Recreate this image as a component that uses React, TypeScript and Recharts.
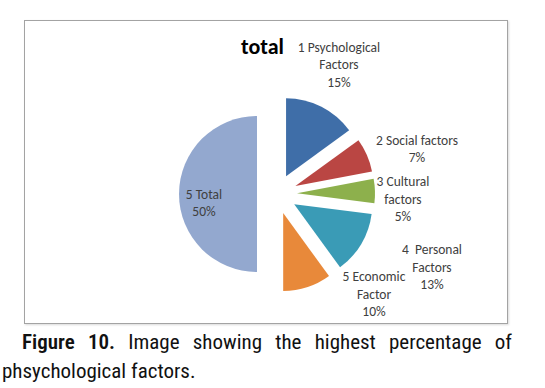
import React from 'react';
import { PieChart, Pie, Cell, Sector } from 'recharts';

// chart data
const categories = ['1 Psychological Factors', '2 Social factors', '3 Cultural factors', '4 Personal Factors', '5 Economic Factor', '5 Total'];
const values = [15, 7, 5, 13, 10, 50];
const labelLines = [
    ['1 Psychological', 'Factors'],
    ['2 Social factors'],
    ['3 Cultural', 'factors'],
    ['4  Personal', 'Factors'],
    ['5 Economic', 'Factor'],
    ['5 Total'],
];
const colors = ['#3F6EA8', '#BA4643', '#8DB04C', '#3A9BB6', '#E8893A', '#93A8CF'];

// layout: label block centre relative to the pie centre
const labelOffsets = [
    [62, -130],
    [140, -45.5],
    [126, 4.5],
    [155, 72.5],
    [97, 99.5],
    [-73, 8.5],
];

const EXPLODE = 20;
const RAD = Math.PI / 180;
const LINE_H = 17.5;
const CHART_FONT = 'Carlito, "Liberation Sans", sans-serif';

const data = categories.map((name, i) => ({ name, value: values[i], idx: i }));

const renderSlice = (props: any) => {
    const { cx, cy, midAngle, innerRadius, outerRadius, startAngle, endAngle, percent, payload } = props;
    const i = payload.idx;
    const ox = EXPLODE * Math.cos(-midAngle * RAD);
    const oy = EXPLODE * Math.sin(-midAngle * RAD);
    const lines = [...labelLines[i], `${Math.round(percent * 100)}%`];
    const [dx, dy] = labelOffsets[i];
    const top = cy + dy - ((lines.length - 1) * LINE_H) / 2;
    return (
        <g key={`slice-${i}`}>
            <Sector
                cx={cx + ox}
                cy={cy + oy}
                innerRadius={innerRadius}
                outerRadius={outerRadius}
                startAngle={startAngle}
                endAngle={endAngle}
                fill={colors[i]}
                stroke="none"
            />
            <text
                x={cx + dx}
                y={top}
                textAnchor="middle"
                dominantBaseline="central"
                fill="#404040"
                style={{ fontFamily: CHART_FONT, fontSize: 13.5 }}
            >
                {lines.map((l, k) => (
                    <tspan key={k} x={cx + dx} y={top + k * LINE_H} style={{ whiteSpace: 'pre' }}>
                        {l}
                    </tspan>
                ))}
            </text>
        </g>
    );
};

export default function App() {
    return (
        <div style={{ position: 'absolute', left: 0, top: 0, width: 545, height: 388, background: '#fff', overflow: 'hidden' }}>
            <div
                style={{
                    position: 'absolute',
                    left: 24,
                    top: 20,
                    width: 482,
                    height: 302,
                    border: '1.5px solid #a3a3a3',
                    boxShadow: '1px 1px 2px rgba(0,0,0,0.15)',
                    background: '#fff',
                }}
            >
                <div
                    style={{
                        position: 'absolute',
                        left: 216,
                        top: 15,
                        fontFamily: CHART_FONT,
                        fontWeight: 700,
                        fontSize: 22,
                        color: '#000',
                        lineHeight: '22px',
                        zIndex: 1,
                    }}
                >
                    total
                </div>
                <PieChart
                    width={482}
                    height={302}
                    margin={{ top: 0, right: 0, bottom: 0, left: 0 }}
                    style={{ position: 'absolute', left: 0, top: 0 }}
                >
                    <Pie
                        data={data}
                        dataKey="value"
                        nameKey="name"
                        cx={252}
                        cy={173}
                        outerRadius={78}
                        startAngle={90}
                        endAngle={-270}
                        stroke="none"
                        label={renderSlice}
                        labelLine={false}
                        isAnimationActive={false}
                    >
                        {data.map((_, i) => (
                            <Cell key={`cell-${i}`} fill="none" />
                        ))}
                    </Pie>
                </PieChart>
            </div>
            <div
                style={{
                    position: 'absolute',
                    left: 2,
                    top: 328,
                    width: 510,
                    textAlign: 'justify',
                    textIndent: 20,
                    fontFamily: '"Roboto Condensed", "Liberation Sans", sans-serif',
                    fontSize: 21,
                    lineHeight: '29px',
                    color: '#111',
                }}
            >
                <span style={{ fontWeight: 600 }}>Figure 10.</span> Image showing the highest percentage of phsychological factors.
            </div>
        </div>
    );
}
